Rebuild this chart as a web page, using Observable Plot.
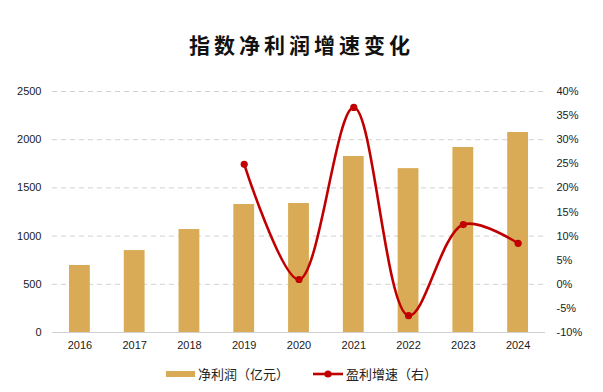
<!DOCTYPE html>
<html>
<head>
<meta charset="utf-8">
<script src="https://cdn.jsdelivr.net/npm/d3@7"></script>
<script src="https://cdn.jsdelivr.net/npm/@observablehq/plot@0.6"></script>
<style>
  body { margin: 0; background: #fff; font-family: "Liberation Sans", Arial, sans-serif; }
  #wrap { width: 603px; height: 392px; position: relative; }
  #title { height: 70px; line-height: 88px; text-align: center; font-family: "Noto Sans CJK SC", sans-serif; font-weight: 700; font-size: 21px; letter-spacing: 4px; color: #111; }
  #legend { position: absolute; top: 364px; left: 0; width: 603px; display: flex; justify-content: center; align-items: center; font-size: 13px; color: #222; font-family: "Noto Sans CJK SC", sans-serif; }
  .item { display: flex; align-items: center; margin: 0 12px; }
  .item svg { margin-right: 3px; }
</style>
</head>
<body>
<div id="wrap">
  <div id="title">指数净利润增速变化</div>
  <div id="chart"></div>
  <div id="legend"></div>
</div>
<script>
const years = ["2016","2017","2018","2019","2020","2021","2022","2023","2024"];
const profit = [695, 850, 1068, 1328, 1338, 1826, 1700, 1919, 2075];
const growthYears = ["2019","2020","2021","2022","2023","2024"];
const growth = [24.9, 1.0, 36.7, -6.5, 12.4, 8.5];
const leftTicks = [0, 500, 1000, 1500, 2000, 2500];
const rightTicks = [-10, -5, 0, 5, 10, 15, 20, 25, 30, 35, 40];
const seriesNames = ["净利润（亿元）", "盈利增速（右）"];

const barColor = "#D9AB56";
const lineColor = "#C00000";

// map right-axis % onto left scale domain [0,2500] <-> [-10%,40%]
const toLeft = g => (g + 10) / 50 * 2500;
const fromLeft = v => v / 2500 * 50 - 10;

const bars = years.map((y, i) => ({year: y, value: profit[i]}));
const line = growthYears.map((y, i) => ({year: y, g: growth[i], v: toLeft(growth[i])}));

const chart = Plot.plot({
  width: 603,
  height: 290,
  marginTop: 21,
  marginBottom: 28,
  marginLeft: 52,
  marginRight: 58,
  style: {fontFamily: "Liberation Sans, Arial, sans-serif", fontSize: "11px", color: "#1a1a1a", background: "#fff"},
  x: {domain: years, paddingInner: 0.62, paddingOuter: 0.31, round: false, label: null},
  y: {domain: [0, 2500], label: null},
  marks: [
    Plot.gridY(leftTicks.slice(1), {stroke: "#d0d0d0", strokeOpacity: 1, strokeDasharray: "5,4"}),
    Plot.barY(bars, {x: "year", y: "value", fill: barColor}),
    Plot.ruleY([0], {stroke: "#d0d0d0", strokeWidth: 1}),
    Plot.line(line, {x: "year", y: "v", stroke: lineColor, strokeWidth: 2.6, curve: "catmull-rom"}),
    Plot.dot(line, {x: "year", y: "v", fill: lineColor, r: 3.6}),
    Plot.axisX({tickSize: 0, tickPadding: 9, fontSize: 11}),
    Plot.axisY({ticks: leftTicks, tickSize: 0, tickPadding: 11, tickFormat: d => String(d), label: null}),
    Plot.axisY({anchor: "right", ticks: rightTicks.map(toLeft), tickSize: 0, tickPadding: 11, tickFormat: d => Math.round(fromLeft(d)) + "%", label: null, textAnchor: "start"})
  ]
});
document.getElementById("chart").appendChild(chart);

const legend = document.getElementById("legend");
legend.innerHTML = `
  <div class="item"><svg width="29" height="8"><rect x="0" y="1" width="29" height="6" fill="${barColor}"/></svg><span>${seriesNames[0]}</span></div>
  <div class="item"><svg width="30" height="10"><line x1="0" y1="5" x2="30" y2="5" stroke="${lineColor}" stroke-width="2.6"/><circle cx="15" cy="5" r="3.6" fill="${lineColor}"/></svg><span>${seriesNames[1]}</span></div>
`;
</script>
</body>
</html>
